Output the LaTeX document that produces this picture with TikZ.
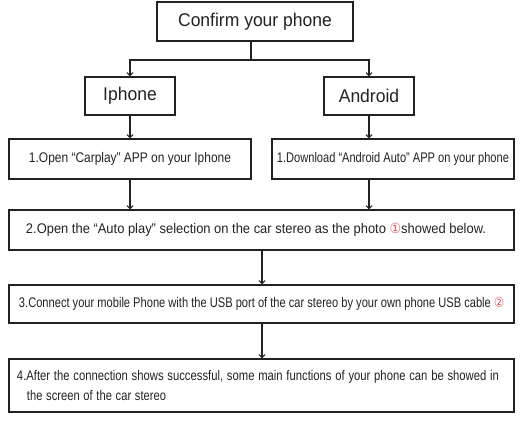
\documentclass[tikz,border=0pt]{standalone}
\usepackage{fontspec}
\usepackage{graphicx}
\setmainfont{Liberation Sans}
\newfontfamily\narrowf{Liberation Sans}
\newfontfamily\titlef[FakeStretch=0.95]{Liberation Sans}
\newfontfamily\symf{DejaVu Sans}
\usetikzlibrary{arrows.meta}
\definecolor{ink}{HTML}{222222}
\definecolor{circ}{HTML}{E05A5A}
\newcommand{\circnum}[1]{{\symf\color{circ}#1}}
\newcommand{\fitw}[2]{\resizebox{#1}{\height}{#2}}
\tikzset{
  box/.style={draw=ink, line width=1.2bp, text=ink, inner sep=0pt, align=center},
  bigbox/.style={box, font=\titlef\fontsize{18.5}{20}\selectfont},
  smallbox/.style={box, font=\narrowf\fontsize{14}{20}\selectfont},
  arr/.style={draw=ink, line width=1.1bp, -{Straight Barb[length=3bp,width=6bp]}},
  conn/.style={draw=ink, line width=1.1bp}
}
\begin{document}
\begin{tikzpicture}[x=1bp,y=-1bp]
\useasboundingbox (0,0) rectangle (530,426);
\node[bigbox, minimum width=196bp, minimum height=39bp] (top) at (255,21.5) {Confirm your phone};
\node[bigbox, minimum width=90bp, minimum height=38bp] (ip) at (130,96) {Iphone};
\node[bigbox, minimum width=90bp, minimum height=38bp] (an) at (369,96) {Android};
\node[smallbox, minimum width=242bp, minimum height=40bp] (b1l) at (130,159) {\fitw{202bp}{1.Open “Carplay” APP on your Iphone}};
\node[smallbox, minimum width=242bp, minimum height=40bp] (b1r) at (393,159) {\fitw{232bp}{1.Download “Android Auto” APP on your phone}};
\node[smallbox, minimum width=505bp, minimum height=40bp] (b2) at (261.5,230) {\fitw{460bp}{2.Open the “Auto play” selection on the car stereo as the photo \circnum{①}showed below.}\hspace*{11bp}};
\node[smallbox, minimum width=505bp, minimum height=38bp] (b3) at (261.5,304) {\fitw{485bp}{3.Connect your mobile Phone with the USB port of the car stereo by your own phone USB cable \circnum{②}}};
\node[smallbox, align=left, text width=489bp, inner xsep=8bp, minimum height=53bp] (b4) at (261.5,385.5) {\fitw{482bp}{4.After the connection shows successful, some main functions of your phone can be showed in}\\\hspace*{10bp}\fitw{139bp}{the screen of the car stereo}};
\coordinate (j) at (251,60);
\draw[conn] (j |- top.south) -- (j);
\draw[arr] (j) -| (ip.north);
\draw[arr] (j) -| (an.north);
\draw[arr] (ip.south) -- (ip.south |- b1l.north);
\draw[arr] (an.south) -- (an.south |- b1r.north);
\draw[arr] (ip.south |- b1l.south) -- (ip.south |- b2.north);
\draw[arr] (an.south |- b1r.south) -- (an.south |- b2.north);
\draw[arr] (b2.south -| 262,0) -- (b3.north -| 262,0);
\draw[arr] (b3.south -| 262,0) -- (b4.north -| 262,0);
\end{tikzpicture}
\end{document}
